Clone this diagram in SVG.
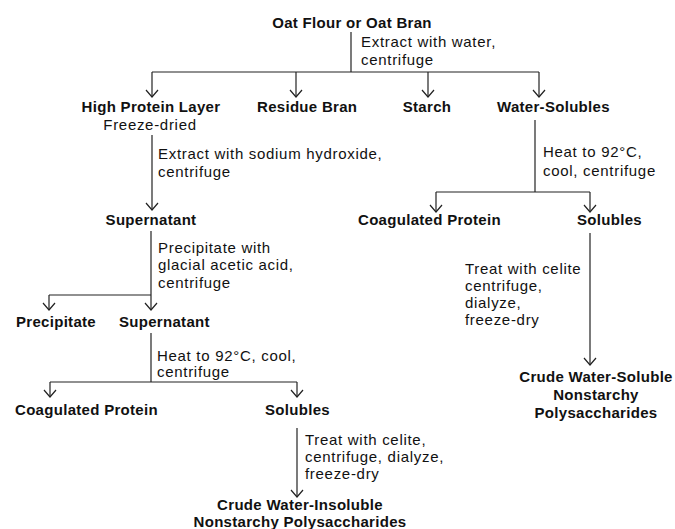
<svg xmlns="http://www.w3.org/2000/svg" width="675" height="529" viewBox="0 0 675 529">
<defs>
<style>
.b{font-family:"Liberation Sans",Arial,sans-serif;font-size:15px;font-weight:bold;letter-spacing:0.3px;fill:#111}
.n{font-family:"Liberation Sans",Arial,sans-serif;font-size:15px;letter-spacing:0.7px;fill:#111}
.m{text-anchor:middle}
.c line,.c path{stroke:#222;stroke-width:1.2;fill:none}
</style>
<marker id="ar" markerUnits="userSpaceOnUse" markerWidth="16" markerHeight="16" viewBox="-8 -8 16 16" refX="0" refY="0" orient="auto">
<path d="M-7,-6 L0,0 L-7,6" fill="none" stroke="#222" stroke-width="1.2"/>
</marker>
</defs>
<rect width="675" height="529" fill="#fff"/>
<g id="connectors" class="c">
<line x1="351" y1="32" x2="351" y2="72"/>
<line x1="152" y1="72" x2="539" y2="72"/>
<line x1="152" y1="72" x2="152" y2="97" marker-end="url(#ar)"/>
<line x1="296" y1="72" x2="296" y2="97" marker-end="url(#ar)"/>
<line x1="428" y1="72" x2="428" y2="97" marker-end="url(#ar)"/>
<line x1="539" y1="72" x2="539" y2="97" marker-end="url(#ar)"/>
<line x1="152" y1="135" x2="152" y2="210" marker-end="url(#ar)"/>
<line x1="151" y1="231" x2="151" y2="295"/>
<line x1="49" y1="295" x2="151" y2="295"/>
<line x1="49" y1="295" x2="49" y2="310" marker-end="url(#ar)"/>
<line x1="151" y1="295" x2="151" y2="310" marker-end="url(#ar)"/>
<line x1="151" y1="333" x2="151" y2="382"/>
<line x1="50" y1="382" x2="297" y2="382"/>
<line x1="50" y1="382" x2="50" y2="397" marker-end="url(#ar)"/>
<line x1="297" y1="382" x2="297" y2="397" marker-end="url(#ar)"/>
<line x1="297" y1="428" x2="297" y2="497" marker-end="url(#ar)"/>
<line x1="535" y1="120" x2="535" y2="192"/>
<line x1="436" y1="192" x2="590" y2="192"/>
<line x1="436" y1="192" x2="436" y2="212" marker-end="url(#ar)"/>
<line x1="590" y1="192" x2="590" y2="212" marker-end="url(#ar)"/>
<line x1="590" y1="233" x2="590" y2="365" marker-end="url(#ar)"/>
</g>
<g id="n-oat"><text class="b m" x="352" y="28">Oat Flour or Oat Bran</text></g>
<g id="l-extract-water"><text class="n" x="361" y="47">Extract with water,</text><text class="n" x="361" y="65">centrifuge</text></g>
<g id="n-hpl"><text class="b m" x="151" y="112">High Protein Layer</text><text class="n m" x="150" y="130">Freeze-dried</text></g>
<g id="n-residue"><text class="b" x="257" y="112">Residue Bran</text></g>
<g id="n-starch"><text class="b m" x="427" y="112">Starch</text></g>
<g id="n-ws"><text class="b" x="497" y="112">Water-Solubles</text></g>
<g id="l-naoh"><text class="n" x="158" y="159">Extract with sodium hydroxide,</text><text class="n" x="158" y="177">centrifuge</text></g>
<g id="n-super1"><text class="b m" x="151" y="225">Supernatant</text></g>
<g id="l-precip"><text class="n" x="158" y="253">Precipitate with</text><text class="n" x="158" y="270">glacial acetic acid,</text><text class="n" x="158" y="288">centrifuge</text></g>
<g id="n-precipitate"><text class="b" x="16" y="327">Precipitate</text></g>
<g id="n-super2"><text class="b" x="119" y="327">Supernatant</text></g>
<g id="l-heat1"><text class="n" x="157" y="361">Heat to 92°C, cool,</text><text class="n" x="157" y="377">centrifuge</text></g>
<g id="n-coag1"><text class="b" x="15" y="415">Coagulated Protein</text></g>
<g id="n-sol1"><text class="b" x="265" y="415">Solubles</text></g>
<g id="l-treat1"><text class="n" x="305" y="445">Treat with celite,</text><text class="n" x="305" y="462">centrifuge, dialyze,</text><text class="n" x="305" y="479">freeze-dry</text></g>
<g id="n-insol"><text class="b m" x="300" y="510">Crude Water-Insoluble</text><text class="b m" x="300" y="527">Nonstarchy Polysaccharides</text></g>
<g id="l-heat2"><text class="n" x="543" y="157">Heat to 92°C,</text><text class="n" x="543" y="176">cool, centrifuge</text></g>
<g id="n-coag2"><text class="b" x="358" y="225">Coagulated Protein</text></g>
<g id="n-sol2"><text class="b" x="577" y="225">Solubles</text></g>
<g id="l-treat2"><text class="n" x="465" y="274">Treat with celite</text><text class="n" x="465" y="291">centrifuge,</text><text class="n" x="465" y="308">dialyze,</text><text class="n" x="465" y="325">freeze-dry</text></g>
<g id="n-sol-nsp"><text class="b m" x="596" y="382">Crude Water-Soluble</text><text class="b m" x="596" y="400">Nonstarchy</text><text class="b m" x="596" y="418">Polysaccharides</text></g>
</svg>
